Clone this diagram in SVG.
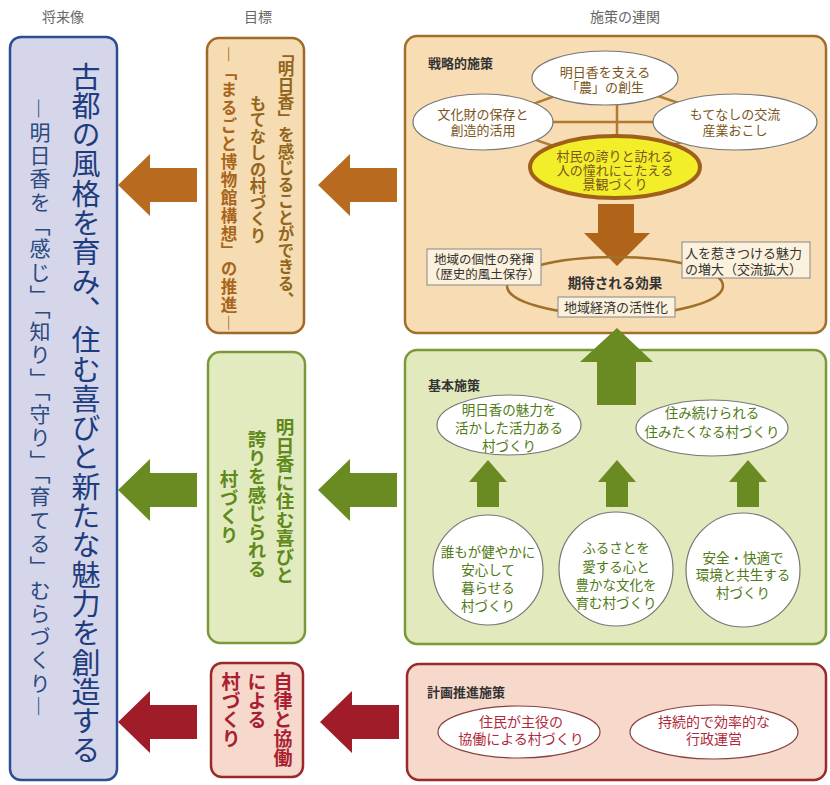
<svg xmlns="http://www.w3.org/2000/svg" width="830" height="785" viewBox="0 0 830 785">
<style>
text{font-family:"Noto Sans CJK JP","Noto Sans",sans-serif}
.hdr{font-size:14px;fill:#666;text-anchor:middle}
.v{writing-mode:vertical-rl}
.lbl{font-size:13px;font-weight:bold;fill:#333}
.c{text-anchor:middle}
.ob{fill:#f7dcb4;stroke:#a0702a;stroke-width:2.5}
.gb{fill:#e2eabd;stroke:#7a9a3a;stroke-width:2.5}
.rb{fill:#f6d9cb;stroke:#9a2a2a;stroke-width:2.5}
.we{fill:#fff;stroke:#777;stroke-width:1.2}
.ot{font-size:13px;fill:#7a5520}
.gt{font-size:13.5px;fill:#4f7a14}
.rt{font-size:14px;fill:#b0283a}
.box{fill:#fbf1dc;stroke:#888;stroke-width:1}
</style>
<defs>
<path id="la" d="M0,0 L32,-31 L32,-17 L79,-17 L79,17 L32,17 L32,31 Z"/>
</defs>
<rect width="830" height="785" fill="#fff"/>
<g id="headers">
<text class="hdr" x="63" y="22">将来像</text>
<text class="hdr" x="258" y="22">目標</text>
<text class="hdr" x="625" y="22">施策の連関</text>
</g>
<g id="vision">
<rect x="10" y="37" width="107" height="743" rx="11" fill="#d6d6ea" stroke="#2a4f8f" stroke-width="2.5"/>
<text class="v" x="86" y="62" font-size="29" letter-spacing="0.3" fill="#1e3d7e">古都の風格を育み、住む喜びと新たな魅力を創造する</text>
<text class="v" x="40" y="98" font-size="21" letter-spacing="2.3" fill="#2a4a80">―明日香を「感じ」「知り」「守り」「育てる」むらづくり―</text>
</g>
<g id="goal-strategic">
<rect x="207" y="38" width="97" height="295" rx="12" fill="#f6dcb2" stroke="#a0692a" stroke-width="2.5"/>
<text class="v" x="286" y="44" font-size="16.5" font-weight="bold" fill="#93651c">「明日香」を感じることができる、</text>
<text class="v" x="258" y="95" font-size="16.5" font-weight="bold" fill="#93651c">もてなしの村づくり</text>
<text class="v" x="229" y="46" font-size="16.5" font-weight="bold" letter-spacing="1.4" fill="#a8641a">―「まるごと博物館構想」の推進―</text>
</g>
<g id="goal-basic">
<rect x="208" y="352" width="97" height="291" rx="12" fill="#e2ebbf" stroke="#7a9a3a" stroke-width="2.5"/>
<text class="v" x="285" y="418" font-size="18.5" font-weight="bold" fill="#5f8a1a">明日香に住む喜びと</text>
<text class="v" x="257" y="430" font-size="18.5" font-weight="bold" fill="#5f8a1a">誇りを感じられる</text>
<text class="v" x="229" y="470" font-size="18.5" font-weight="bold" fill="#5f8a1a">村づくり</text>
</g>
<g id="goal-promotion">
<rect x="211" y="663" width="92" height="114" rx="11" fill="#f6d8cc" stroke="#9a2a2a" stroke-width="2.5"/>
<text class="v" x="283" y="672" font-size="19" font-weight="bold" fill="#a82030">自律と協働</text>
<text class="v" x="257" y="672" font-size="19" font-weight="bold" fill="#a82030">による</text>
<text class="v" x="231" y="672" font-size="19" font-weight="bold" fill="#a82030">村づくり</text>
</g>
<g id="connectors">
<use href="#la" transform="translate(118,185)" fill="#b86a1e"/>
<use href="#la" transform="translate(318,185)" fill="#b86a1e"/>
<use href="#la" transform="translate(118,490)" fill="#6a8a22"/>
<use href="#la" transform="translate(318,490)" fill="#6a8a22"/>
<use href="#la" transform="translate(118,722)" fill="#a01c28"/>
<use href="#la" transform="translate(320,722)" fill="#a01c28"/>
</g>
<g id="strategic">
<rect x="405" y="36" width="421" height="297" rx="12" class="ob"/>
<text class="lbl" x="428" y="68" font-size="14">戦略的施策</text>
<g fill="none" stroke="#b07a30" stroke-width="2.5">
<polygon points="605,78 483,122 615,167 735,122"/>
<line x1="617" y1="78" x2="617" y2="167"/>
<line x1="483" y1="122" x2="735" y2="122"/>
</g>
<ellipse id="e-agri" cx="605" cy="78" rx="73" ry="27" class="we"/>
<text class="ot c" x="605" y="77">明日香を支える</text>
<text class="ot c" x="605" y="92">「農」の創生</text>
<ellipse cx="483" cy="122" rx="70" ry="28" class="we"/>
<text class="ot c" x="483" y="119">文化財の保存と</text>
<text class="ot c" x="483" y="135">創造的活用</text>
<ellipse cx="735" cy="122" rx="82" ry="28" class="we"/>
<text class="ot c" x="735" y="119">もてなしの交流</text>
<text class="ot c" x="735" y="135">産業おこし</text>
<ellipse cx="615" cy="167" rx="85" ry="31" fill="#f2ee2a" stroke="#a0601a" stroke-width="4"/>
<text class="ot c" x="615" y="161" font-size="12" fill="#b07020">村民の誇りと訪れる</text>
<text class="ot c" x="615" y="175" font-size="12" fill="#b07020">人の憧れにこたえる</text>
<text class="ot c" x="615" y="189" font-size="12" fill="#b07020">景観づくり</text>
<polygon points="598,204 634,204 634,233 650,233 617,266 584,233 598,233" fill="#b0641a"/>
<ellipse cx="615" cy="286" rx="108" ry="29" fill="none" stroke="#a0702a" stroke-width="2.5"/>
<rect x="427" y="249" width="114" height="36" class="box"/>
<text class="c" x="484" y="264" font-size="12.5" fill="#333">地域の個性の発揮</text>
<text class="c" x="484" y="279" font-size="12.5" fill="#333">（歴史的風土保存）</text>
<rect x="682" y="242" width="128" height="36" class="box"/>
<text x="685" y="258" font-size="13" fill="#333">人を惹きつける魅力</text>
<text x="685" y="274" font-size="13" fill="#333">の増大（交流拡大）</text>
<text class="c" x="615" y="288" font-size="13.5" font-weight="bold" fill="#333">期待される効果</text>
<rect x="558" y="297" width="117" height="20" class="box"/>
<text class="c" x="616" y="312" font-size="13" fill="#333">地域経済の活性化</text>
</g>
<g id="basic">
<rect x="405" y="350" width="421" height="294" rx="12" class="gb"/>
<polygon points="617,328 653,362 636,362 636,405 597,405 597,362 580,362" fill="#6a8a22"/>
<text class="lbl" x="428" y="390">基本施策</text>
<ellipse cx="509" cy="425" rx="72" ry="30" class="we"/>
<text class="gt c" x="509" y="415">明日香の魅力を</text>
<text class="gt c" x="509" y="433">活かした活力ある</text>
<text class="gt c" x="509" y="451">村づくり</text>
<ellipse cx="712" cy="428" rx="76" ry="28" class="we"/>
<text class="gt c" x="712" y="418">住み続けられる</text>
<text class="gt c" x="712" y="437">住みたくなる村づくり</text>
<g fill="#6a8a22">
<polygon points="488,460 507,482 499,482 499,507 477,507 477,482 469,482"/>
<polygon points="617,460 636,482 628,482 628,507 606,507 606,482 598,482"/>
<polygon points="748,460 767,482 759,482 759,507 737,507 737,482 729,482"/>
</g>
<circle cx="488" cy="570" r="55" class="we"/>
<text class="gt c" x="488" y="557" font-size="14">誰もが健やかに</text>
<text class="gt c" x="488" y="575" font-size="14">安心して</text>
<text class="gt c" x="488" y="593" font-size="14">暮らせる</text>
<text class="gt c" x="488" y="611" font-size="14">村づくり</text>
<circle cx="616" cy="569" r="57" class="we"/>
<text class="gt c" x="616" y="553" font-size="14">ふるさとを</text>
<text class="gt c" x="616" y="572" font-size="14">愛する心と</text>
<text class="gt c" x="616" y="590" font-size="14">豊かな文化を</text>
<text class="gt c" x="616" y="608" font-size="14">育む村づくり</text>
<circle cx="743" cy="570" r="57" class="we"/>
<text class="gt c" x="743" y="563" font-size="14">安全・快適で</text>
<text class="gt c" x="743" y="580" font-size="14">環境と共生する</text>
<text class="gt c" x="743" y="598" font-size="14">村づくり</text>
</g>
<g id="promotion">
<rect x="407" y="664" width="419" height="116" rx="12" class="rb"/>
<text class="lbl" x="427" y="697">計画推進施策</text>
<ellipse cx="519" cy="732" rx="81" ry="26" fill="#fff" stroke="#8a4040" stroke-width="1.2"/>
<text class="rt c" x="521" y="727">住民が主役の</text>
<text class="rt c" x="521" y="744">協働による村づくり</text>
<ellipse cx="714" cy="732" rx="84" ry="27" fill="#fff" stroke="#8a4040" stroke-width="1.2"/>
<text class="rt c" x="714" y="727" font-size="15">持続的で効率的な</text>
<text class="rt c" x="714" y="744" font-size="15">行政運営</text>
</g>
</svg>
